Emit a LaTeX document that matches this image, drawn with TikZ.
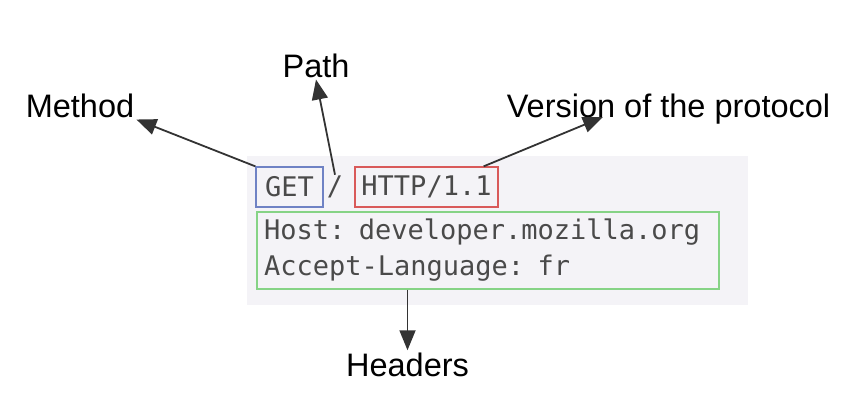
\documentclass[tikz,border=0pt]{standalone}
\usepackage{fontspec}
\setmainfont{Liberation Sans}
\newfontfamily\codefont{DejaVu Sans Mono}
\usetikzlibrary{arrows.meta, positioning, calc}
\definecolor{panelgray}{HTML}{F4F3F7}
\definecolor{codetext}{HTML}{4A4A4A}
\definecolor{getblue}{HTML}{6F82C4}
\definecolor{httpred}{HTML}{D95A5A}
\definecolor{hdrgreen}{HTML}{86D386}
\definecolor{arrowgray}{HTML}{333333}

\begin{document}
\begin{tikzpicture}[
    x=1pt, y=-1pt,
    codebox/.style={draw, line width=1.3pt, font=\codefont\fontsize{27}{36}\selectfont, text=codetext, inner sep=0pt, minimum height=40pt},
    callout/.style={font=\fontsize{32.5}{39}\selectfont, anchor=base, inner sep=2pt},
    arr/.style={-{Triangle[length=20pt, width=16pt]}, line width=1.8pt, draw=arrowgray}
]
\useasboundingbox (0,0) rectangle (858,404);
\node[fill=panelgray, minimum width=501pt, minimum height=149pt, inner sep=0pt] (panel) at (497.5,230.5) {};

% request line
\node[codebox, draw=getblue, minimum width=67pt] (get) at (289.5,187) {GET};
\node[font=\codefont\fontsize{27}{36}\selectfont, text=codetext, inner sep=1pt] (slash) at (335,187) {/};
\node[codebox, draw=httpred, minimum width=143pt] (http) at (426.5,187) {HTTP/1.1};
\node[codebox, draw=hdrgreen, align=left, text width=448pt, minimum height=77pt, inner xsep=7pt] (hdrs) at (488,250.5) {Host: developer.mozilla.org\\Accept-Language: fr};

% labels
\node[callout] (method) at (80,117) {Method};
\node[callout] (path) at (316,77) {Path};
\node[callout] (version) at (668.5,117) {Version of the protocol};
\node[callout] (headers) at (407.5,376) {Headers};

\draw[arr] (get.north west) -- (method.south east);
\draw[arr] (slash.north) -- (path.south);
\draw[arr] ($(http.north east)+(-15,0)$) -- ($(version.base west)!0.3!(version.base east)$);
\draw[arr] (hdrs.south -| headers.north) -- (headers.north);
\end{tikzpicture}
\end{document}
